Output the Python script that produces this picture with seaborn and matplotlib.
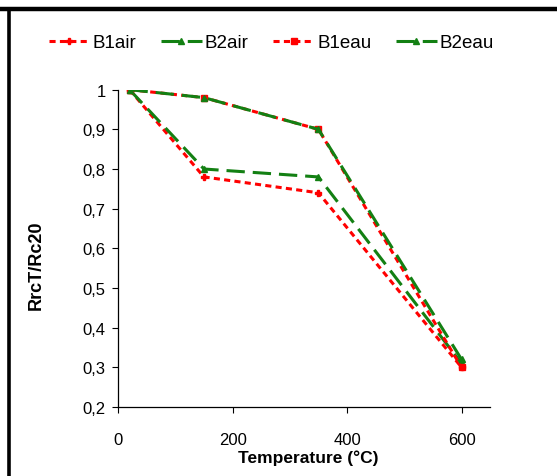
import matplotlib
matplotlib.use("Agg")
import matplotlib.pyplot as plt
from matplotlib.lines import Line2D
from matplotlib.ticker import FuncFormatter
import seaborn as sns

# values
temperature = [20, 150, 350, 600]
b1air = [1.0, 0.78, 0.74, 0.30]
b2air = [1.0, 0.80, 0.78, 0.31]
b1eau = [1.0, 0.98, 0.90, 0.30]
b2eau = [1.0, 0.98, 0.90, 0.32]

xticks = [0, 200, 400, 600]
yticks = [0.2, 0.3, 0.4, 0.5, 0.6, 0.7, 0.8, 0.9, 1.0]

sns.set_style("white")
plt.rcParams['font.family'] = ['Liberation Sans', 'DejaVu Sans']
plt.rcParams['text.color'] = 'black'
plt.rcParams['axes.labelcolor'] = 'black'

red = "#ff0000"
green = "#138013"
short_dash = (0, (2.0, 1.4))
long_dash = (0, (6.0, 2.6))

series = [
    ("B1air", b1air, red, short_dash, "P", 4),
    ("B2air", b2air, green, long_dash, "^", 4),
    ("B1eau", b1eau, red, short_dash, "s", 4),
    ("B2eau", b2eau, green, long_dash, "^", 4),
]


def main():
    fig = plt.figure(figsize=(5.57, 4.77), dpi=100)
    ax = fig.add_axes([0.212, 0.1447, 0.668, 0.6652])

    for name, vals, color, ls, marker, ms in series:
        sns.lineplot(x=temperature, y=vals, ax=ax, color=color, linestyle=ls,
                     linewidth=2.2, marker=marker, markersize=ms,
                     markeredgecolor=color, markeredgewidth=1, label=name)

    ax.set_xlim(0, 650)
    ax.set_ylim(0.2, 1.0)
    ax.set_xticks(xticks)
    ax.set_yticks(yticks)
    ax.yaxis.set_major_formatter(FuncFormatter(lambda v, p: f"{v:g}".replace(".", ",")))
    ax.tick_params(axis='both', direction='out', length=4, width=0.8, colors='black',
                   labelsize=12, bottom=True, left=True)
    ax.tick_params(axis='y', pad=5)
    ax.tick_params(axis='x', pad=14)
    for side in ['top', 'right']:
        ax.spines[side].set_visible(False)
    for side in ['left', 'bottom']:
        ax.spines[side].set_color('black')
        ax.spines[side].set_linewidth(0.9)

    ax.set_xlabel("Temperature (°C)", fontsize=12.5, fontweight='bold', color='black')
    ax.xaxis.set_label_coords(0.512, -0.135)
    ax.set_ylabel("RrcT/Rc20", fontsize=13, fontweight='bold', color='black')
    ax.yaxis.set_label_coords(-0.196, 0.45)

    leg = ax.legend(loc='center', bbox_to_anchor=(0.487, 0.908), bbox_transform=fig.transFigure,
                    ncol=4, frameon=False, fontsize=13.5, handlelength=2.2, handletextpad=0.15,
                    columnspacing=1.3)
    for t in leg.get_texts():
        t.set_color('black')

    # outer frame lines (top and left)
    fig.add_artist(Line2D([0, 1], [0.980, 0.980], transform=fig.transFigure, color='black', lw=3.2))
    fig.add_artist(Line2D([0.0155, 0.0155], [0, 0.980], transform=fig.transFigure, color='black', lw=2.6))

    fig.savefig("out.png", dpi=100)


if __name__ == "__main__":
    main()
